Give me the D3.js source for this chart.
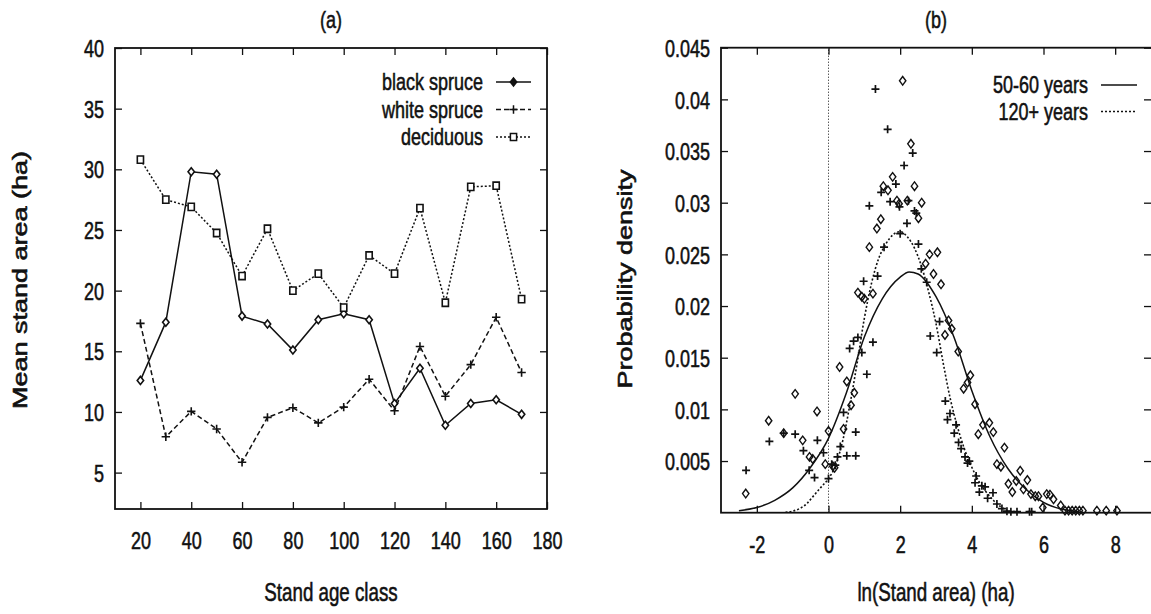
<!DOCTYPE html>
<html>
<head>
<meta charset="utf-8">
<script src="https://cdn.jsdelivr.net/npm/d3@7"></script>
<style>
  body { margin: 0; background: #fff; }
  svg text { font-family: "Liberation Sans", Arial, Helvetica, sans-serif; fill: #111; stroke: #111; stroke-width: 0.55px; }
</style>
</head>
<body>
<svg id="chart" width="1151" height="614"></svg>
<script>
// ---- Panel (a): mean stand area by stand age class ----
const ageClasses   = [20, 30, 40, 50, 60, 70, 80, 90, 100, 110, 120, 130, 140, 150, 160, 170];
const blackSpruce  = [12.6, 17.4, 29.8, 29.6, 17.9, 17.25, 15.1, 17.6, 18.1, 17.6, 10.7, 13.6, 8.9, 10.7, 11.0, 9.8];
const whiteSpruce  = [17.3, 7.95, 10.05, 8.6, 5.85, 9.55, 10.35, 9.1, 10.4, 12.7, 10.1, 15.4, 11.3, 13.9, 17.8, 13.25];
const deciduous    = [30.8, 27.5, 26.9, 24.75, 21.2, 25.1, 20.0, 21.4, 18.6, 22.9, 21.4, 26.8, 19.0, 28.55, 28.65, 19.3];
const ageTicks     = [20, 40, 60, 80, 100, 120, 140, 160, 180];
const areaTicks    = [5, 10, 15, 20, 25, 30, 35, 40];
const seriesNamesA = ["black spruce", "white spruce", "deciduous"];

// ---- Panel (b): density of ln(stand area), points as [ln area, density x 1000] ----
const lnAreaTicks  = [-2, 0, 2, 4, 6, 8];
const densityTicks = [0.005, 0.01, 0.015, 0.02, 0.025, 0.03, 0.035, 0.04, 0.045];
const densityTickLabels = ["0.005", "0.01", "0.015", "0.02", "0.025", "0.03", "0.035", "0.04", "0.045"];
const seriesNamesB = ["50-60 years", "120+ years"];

const obs5060 = [
  [-2.31, 1.85], [-1.67, 8.9], [-1.25, 7.7], [-0.93, 11.5], [-0.72, 7.0], [-0.53, 5.4], [-0.44, 5.2],
  [-0.32, 9.8], [-0.09, 4.7], [0.0, 7.9], [0.12, 4.5], [0.17, 4.35], [0.31, 14.1], [0.42, 8.1],
  [0.51, 12.7], [0.63, 10.4], [0.72, 11.6], [0.82, 21.3], [0.93, 20.9], [1.0, 20.7], [1.14, 25.7],
  [1.24, 21.2], [1.35, 27.5], [1.46, 28.4], [1.53, 31.6], [1.66, 31.2], [1.79, 32.5], [1.91, 30.2],
  [1.97, 29.9], [2.07, 41.8], [2.2, 30.2], [2.3, 35.7], [2.4, 31.6], [2.51, 28.5], [2.6, 30.0],
  [2.71, 24.1], [2.82, 25.0], [2.93, 23.1], [3.04, 25.2], [3.14, 22.1], [3.25, 17.2], [3.35, 18.6],
  [3.44, 17.8], [3.62, 15.6], [3.77, 12.0], [3.88, 12.6], [3.96, 13.3], [4.09, 10.5], [4.18, 7.6],
  [4.31, 8.5], [4.49, 8.7], [4.6, 7.8], [4.7, 4.7], [4.81, 4.45], [4.91, 6.3], [5.02, 2.8],
  [5.13, 2.0], [5.24, 3.07], [5.35, 4.06], [5.44, 2.26], [5.55, 3.16], [5.65, 1.8], [5.77, 1.6],
  [5.86, 1.6], [5.98, 0.5], [6.09, 1.8], [6.18, 1.75], [6.28, 1.3], [6.48, 0.7], [6.6, 0.2],
  [6.7, 0.2], [6.8, 0.2], [6.9, 0.2], [7.0, 0.2], [7.1, 0.2], [7.49, 0.2], [7.75, 0.2], [8.05, 0.2]
];
const obs120 = [
  [-2.3, 4.1], [-1.65, 6.9], [-1.25, 7.7], [-0.93, 7.6], [-0.70, 6.0], [-0.54, 4.1], [-0.39, 3.4],
  [-0.31, 7.0], [-0.14, 5.8], [0.0, 3.3], [0.09, 4.7], [0.19, 4.6], [0.25, 5.4], [0.33, 6.4],
  [0.42, 9.7], [0.51, 5.5], [0.59, 15.9], [0.70, 16.6], [0.76, 7.8], [0.76, 5.5], [0.82, 16.96],
  [0.93, 15.5], [0.98, 22.4], [1.07, 13.4], [1.14, 29.7], [1.24, 16.5], [1.31, 41.0], [1.37, 22.9],
  [1.47, 31.0], [1.55, 25.7], [1.65, 37.1], [1.72, 30.1], [1.88, 31.8], [1.98, 29.6], [2.0, 27.0],
  [2.11, 33.6], [2.19, 28.0], [2.23, 30.2], [2.35, 34.8], [2.4, 29.2], [2.45, 29.0], [2.51, 26.0],
  [2.59, 23.6], [2.74, 22.3], [2.84, 17.1], [3.02, 15.5], [3.1, 18.5], [3.26, 10.8], [3.32, 9.0],
  [3.39, 9.6], [3.51, 7.7], [3.56, 8.5], [3.63, 6.8], [3.70, 6.2], [3.81, 5.4], [3.88, 4.8],
  [3.93, 5.0], [4.09, 2.9], [4.12, 3.55], [4.21, 2.0], [4.28, 2.6], [4.37, 2.5], [4.44, 1.4],
  [4.59, 1.93], [4.7, 0.84], [4.84, 0.4], [4.98, 0.15], [5.09, 0.1], [5.26, 0.1], [5.61, 0.1], [5.67, 0.1]
];
// fitted density curves, [ln area, density x 1000]
const fit5060 = [
  [-2.5, 0.2], [-2.0, 0.5], [-1.5, 1.2], [-1.0, 2.4], [-0.5, 4.4], [0.0, 7.2], [0.5, 11.6],
  [1.0, 17.0], [1.5, 20.7], [2.0, 22.8], [2.25, 23.3], [2.5, 23.1], [3.0, 20.9], [3.5, 17.0],
  [4.0, 11.8], [4.5, 7.4], [5.0, 4.3], [5.5, 2.3], [6.0, 1.0], [6.5, 0.35], [7.0, 0.1]
];
const fit120 = [
  [-1.2, 0.05], [-1.0, 0.15], [-0.6, 0.9], [-0.4, 1.7], [-0.2, 2.5], [0.0, 3.3], [0.2, 4.6],
  [0.4, 7.0], [0.6, 10.5], [0.8, 14.5], [1.0, 18.8], [1.2, 22.2], [1.4, 24.6], [1.6, 26.0],
  [1.8, 26.9], [2.0, 27.2], [2.2, 26.7], [2.4, 25.6], [2.6, 23.8], [2.8, 21.3], [3.0, 18.3],
  [3.2, 14.5], [3.4, 11.0], [3.6, 8.3], [3.8, 6.1], [4.0, 4.4], [4.2, 3.0], [4.4, 2.0],
  [4.6, 1.2], [4.8, 0.6], [5.0, 0.2], [5.2, 0.05]
];

const svg = d3.select("#chart");
const INK = "#111";
const TICK = 7;
const NARROW = 0.75;   // horizontal squeeze of the lettering
const FONT = 24;

// marker shapes
function diamondPath(w, h) { return `M0,${-h}L${w},0L0,${h}L${-w},0Z`; }
function plusPath(s) { return `M${-s},0H${s}M0,${-s}V${s}`; }
function squarePath(w, h) { return `M${-w},${-h}H${w}V${h}H${-w}Z`; }

const plainNumber = d => String(d);   // keeps an ASCII hyphen for negatives

function frame(g, x0, x1, y0, y1) {
  g.append("rect").attr("x", x0).attr("y", y0).attr("width", x1 - x0).attr("height", y1 - y0)
    .attr("fill", "none").attr("stroke", INK).attr("stroke-width", 1.8);
}

function axes(g, x, y, xTicks, yTicks, yFmt) {
  const [x0, x1] = x.range();
  const [y1, y0] = y.range();
  const bottom = g.append("g").attr("transform", `translate(0,${y1})`)
    .call(d3.axisBottom(x).tickValues(xTicks).tickSize(-TICK).tickFormat(plainNumber));
  const top = g.append("g").attr("transform", `translate(0,${y0})`)
    .call(d3.axisTop(x).tickValues(xTicks).tickSize(-TICK).tickFormat(""));
  const left = g.append("g").attr("transform", `translate(${x0},0)`)
    .call(d3.axisLeft(y).tickValues(yTicks).tickSize(-TICK).tickFormat(yFmt));
  const right = g.append("g").attr("transform", `translate(${x1},0)`)
    .call(d3.axisRight(y).tickValues(yTicks).tickSize(-TICK).tickFormat(""));
  [bottom, top, left, right].forEach(a => {
    a.attr("font-family", null);
    a.select(".domain").remove();
    a.selectAll("line").attr("stroke", INK).attr("stroke-width", 1.3);
  });
  bottom.selectAll("text").attr("y", 0).attr("dy", null)
    .attr("transform", `translate(0,40) scale(${NARROW},1)`)
    .style("font-size", FONT + "px").attr("fill", INK);
  left.selectAll("text").attr("x", 0).attr("dy", "0.36em")
    .attr("transform", `translate(-11,0) scale(${NARROW},1)`)
    .style("font-size", FONT + "px").attr("fill", INK);
}

function hText(g, x, y, str, anchor, size) {
  g.append("text").attr("transform", `translate(${x},${y}) scale(${NARROW},1)`)
    .attr("text-anchor", anchor || "middle")
    .style("font-size", (size || FONT) + "px").text(str);
}
function vText(g, x, y, str) {
  g.append("text").attr("transform", `translate(${x},${y}) rotate(-90) scale(1,0.74)`)
    .attr("text-anchor", "middle")
    .style("font-size", "27px").style("stroke-width", "0.8px").text(str);
}

// ================= Panel (a) =================
{
  const g = svg.append("g");
  const x = d3.scaleLinear().domain([10, 180]).range([115, 547]);
  const y = d3.scaleLinear().domain([2, 40]).range([509, 48]);

  axes(g, x, y, ageTicks, areaTicks, plainNumber);
  frame(g, 115, 547, 48, 509);

  hText(g, 331, 28, "(a)");
  hText(g, 331, 601, "Stand age class", "middle", 25);
  vText(g, 27, 280, "Mean stand area (ha)");

  const series = [
    { name: seriesNamesA[0], values: blackSpruce, dash: null, marker: diamondPath(3.2, 4.0), fill: "#fff" },
    { name: seriesNamesA[1], values: whiteSpruce, dash: "5,3", marker: plusPath(4.2), fill: "none" },
    { name: seriesNamesA[2], values: deciduous, dash: "2,2", marker: squarePath(3.1, 3.6), fill: "#fff" }
  ];
  const line = d3.line().x((d, i) => x(ageClasses[i])).y(d => y(d));

  series.forEach((s, k) => {
    g.append("path").datum(s.values).attr("d", line)
      .attr("fill", "none").attr("stroke", INK).attr("stroke-width", 1.5)
      .attr("stroke-dasharray", s.dash);
    g.selectAll(null).data(s.values).enter().append("path")
      .attr("transform", (d, i) => `translate(${x(ageClasses[i])},${y(d)})`)
      .attr("d", s.marker).attr("fill", s.fill).attr("stroke", INK).attr("stroke-width", 1.6);

    // legend entry
    const by = 90 + k * 27.5;
    hText(g, 483, by, s.name, "end");
    g.append("line").attr("x1", 496).attr("x2", 531).attr("y1", by - 8).attr("y2", by - 8)
      .attr("stroke", INK).attr("stroke-width", 1.5).attr("stroke-dasharray", s.dash);
    g.append("path").attr("transform", `translate(513.5,${by - 8})`).attr("d", s.marker)
      .attr("fill", k === 0 ? INK : s.fill).attr("stroke", INK).attr("stroke-width", 1.5);
  });
}

// ================= Panel (b) =================
{
  const g = svg.append("g");
  const x = d3.scaleLinear().domain([-3, 9]).range([721, 1151]);
  const y = d3.scaleLinear().domain([0, 0.045]).range([512.7, 47.7]);

  axes(g, x, y, lnAreaTicks, densityTicks, (d, i) => densityTickLabels[i]);
  frame(g, 721, 1152, 47.7, 512.7);

  // zero axis
  g.append("line").attr("x1", x(0)).attr("x2", x(0)).attr("y1", y(0)).attr("y2", y(0.045))
    .attr("stroke", INK).attr("stroke-width", 1).attr("stroke-dasharray", "1,2");

  hText(g, 936, 28, "(b)");
  hText(g, 936, 601, "ln(Stand area) (ha)", "middle", 25);
  vText(g, 632, 279, "Probability density");

  const curve = d3.line().x(d => x(d[0])).y(d => y(d[1] / 1000)).curve(d3.curveMonotoneX);
  g.append("path").datum(fit5060).attr("d", curve)
    .attr("fill", "none").attr("stroke", INK).attr("stroke-width", 1.5);
  g.append("path").datum(fit120).attr("d", curve)
    .attr("fill", "none").attr("stroke", INK).attr("stroke-width", 1.6).attr("stroke-dasharray", "2,2");

  g.selectAll(null).data(obs5060).enter().append("path")
    .attr("transform", d => `translate(${x(d[0])},${y(d[1] / 1000)})`)
    .attr("d", diamondPath(3.2, 4.3)).attr("fill", "none").attr("stroke", INK).attr("stroke-width", 1.4);
  g.selectAll(null).data(obs120).enter().append("path")
    .attr("transform", d => `translate(${x(d[0])},${y(d[1] / 1000)})`)
    .attr("d", plusPath(4)).attr("fill", "none").attr("stroke", INK).attr("stroke-width", 1.7);

  // legend
  const legB = [{ dash: null }, { dash: "2,2" }];
  legB.forEach((s, k) => {
    const by = 93 + k * 26.5;
    hText(g, 1088, by, seriesNamesB[k], "end");
    g.append("line").attr("x1", 1101).attr("x2", 1137).attr("y1", by - 8).attr("y2", by - 8)
      .attr("stroke", INK).attr("stroke-width", 1.4).attr("stroke-dasharray", s.dash);
  });
}
</script>
</body>
</html>
